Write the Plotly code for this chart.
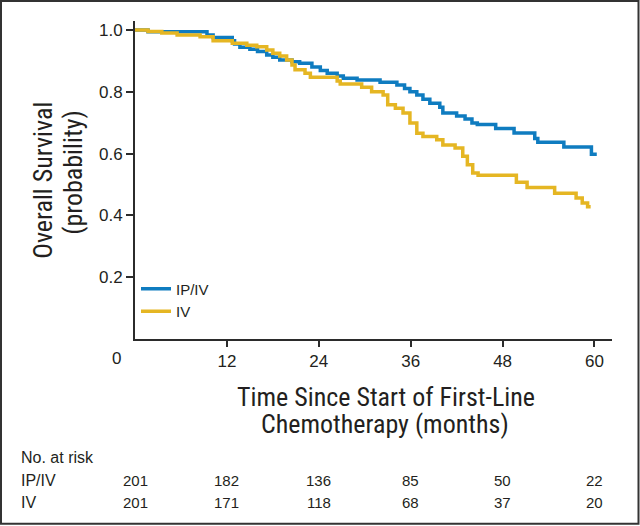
import plotly.graph_objects as go

# ---- data ----
ipiv_t = [0, 1.7, 9.4, 10.2, 12.7, 13.0, 13.7, 15.0, 16.0, 17.2, 18.0, 18.9, 20.5, 21.5, 23.1, 24.2, 25.1,
          26.4, 27.2, 29.0, 32.0, 34.2, 35.2, 35.9, 36.8, 37.6, 38.5, 39.8, 40.2, 42.0, 43.1, 44.0, 44.7,
          47.1, 49.5, 52.2, 52.6, 56.0, 59.6, 60.3]
ipiv_s = [1.000, 0.994, 0.984, 0.976, 0.965, 0.955, 0.944, 0.938, 0.930, 0.919, 0.912, 0.903, 0.897, 0.892,
          0.880, 0.869, 0.860, 0.851, 0.844, 0.838, 0.831, 0.822, 0.811, 0.800, 0.790, 0.776, 0.763, 0.750,
          0.731, 0.722, 0.712, 0.699, 0.694, 0.681, 0.667, 0.649, 0.637, 0.621, 0.598, 0.598]

iv_t = [0, 1.7, 3.5, 5.5, 8.5, 10.2, 12.7, 14.6, 15.9, 17.2, 18.0, 18.9, 19.8, 20.5, 20.9, 22.2, 22.9,
        26.4, 26.8, 29.6, 30.9, 32.4, 33.0, 34.0, 35.0, 35.9, 36.8, 37.6, 39.4, 40.2, 41.8, 42.8, 43.4,
        44.1, 44.8, 49.8, 51.2, 54.8, 57.6, 58.4, 59.1, 59.5]
iv_s = [1.000, 0.995, 0.990, 0.984, 0.978, 0.965, 0.957, 0.951, 0.946, 0.935, 0.925, 0.916, 0.903, 0.887,
        0.871, 0.860, 0.847, 0.835, 0.825, 0.815, 0.800, 0.790, 0.758, 0.747, 0.731, 0.699, 0.666, 0.655,
        0.645, 0.628, 0.618, 0.591, 0.564, 0.537, 0.530, 0.507, 0.490, 0.472, 0.456, 0.440, 0.428, 0.428]

x_ticks = [12, 24, 36, 48, 60]
y_ticks = [0.2, 0.4, 0.6, 0.8, 1.0]
y_tick_labels = ["0.2", "0.4", "0.6", "0.8", "1.0"]

risk_times = [0, 12, 24, 36, 48, 60]
risk_ipiv = [201, 182, 136, 85, 50, 22]
risk_iv = [201, 171, 118, 68, 37, 20]

BLUE = "#0f7cc0"
YELLOW = "#e5b623"
TXT = "#231f20"
NARROW = "Liberation Sans Narrow, Arial Narrow, Roboto Condensed, sans-serif"
REG = "Liberation Sans, Arial, Helvetica, sans-serif"

W, H = 640, 526
L, R, T, B = 135, 612, 21, 339.5


def px(xp):
    return (xp - L) / (R - L)


def py(yp):
    return (B - yp) / (B - T)


fig = go.Figure()
fig.add_trace(go.Scatter(x=ipiv_t, y=ipiv_s, mode="lines", name="IP/IV",
                         line=dict(color=BLUE, width=3.5, shape="hv")))
fig.add_trace(go.Scatter(x=iv_t, y=iv_s, mode="lines", name="IV",
                         line=dict(color=YELLOW, width=3.5, shape="hv")))

x_max = (R - L) / 7.658
y_max = (B - T) / 309.5

fig.update_layout(
    width=W, height=H,
    margin=dict(l=L, r=W - R, t=T, b=H - B),
    paper_bgcolor="white", plot_bgcolor="white",
    showlegend=True,
    legend=dict(x=px(136), y=py(273), xanchor="left", yanchor="top",
                bgcolor="rgba(0,0,0,0)", font=dict(family=REG, size=15, color=TXT),
                tracegroupgap=0, itemwidth=30),
    xaxis=dict(range=[0, x_max], tickvals=x_ticks, ticks="outside", ticklen=6, tickwidth=1.5,
               tickcolor="#2b2b2b", showline=True, linecolor="#2b2b2b", linewidth=2,
               showgrid=False, zeroline=False, tickfont=dict(family=REG, size=17, color=TXT)),
    yaxis=dict(range=[0, y_max], tickvals=y_ticks, ticktext=y_tick_labels, ticks="outside",
               ticklen=7, tickwidth=1.5, tickcolor="#2b2b2b", showline=True, linecolor="#2b2b2b",
               linewidth=2, showgrid=False, zeroline=False,
               tickfont=dict(family=REG, size=17, color=TXT)),
)

ann = []
# "0" at origin
ann.append(dict(x=px(116), y=py(359), xref="paper", yref="paper", text="0", showarrow=False,
                xanchor="center", yanchor="middle", font=dict(family=REG, size=17, color=TXT)))
# x title
ann.append(dict(x=px(386), y=py(398), xref="paper", yref="paper", text="Time Since Start of First-Line",
                showarrow=False, xanchor="center", yanchor="middle",
                font=dict(family=NARROW, size=26, color=TXT)))
ann.append(dict(x=px(385), y=py(425), xref="paper", yref="paper", text="Chemotherapy (months)",
                showarrow=False, xanchor="center", yanchor="middle",
                font=dict(family=NARROW, size=26, color=TXT)))
# y title
ann.append(dict(x=px(43), y=py(181), xref="paper", yref="paper", text="Overall Survival",
                showarrow=False, xanchor="center", yanchor="middle", textangle=-90,
                font=dict(family=NARROW, size=26, color=TXT)))
ann.append(dict(x=px(73), y=py(173), xref="paper", yref="paper", text="(probability)",
                showarrow=False, xanchor="center", yanchor="middle", textangle=-90,
                font=dict(family=NARROW, size=26, color=TXT)))
# risk table
ann.append(dict(x=px(19), y=py(458), xref="paper", yref="paper", text="No. at risk", showarrow=False,
                xanchor="left", yanchor="middle", font=dict(family=REG, size=16, color=TXT)))
ann.append(dict(x=px(19), y=py(481), xref="paper", yref="paper", text="IP/IV", showarrow=False,
                xanchor="left", yanchor="middle", font=dict(family=REG, size=16, color=TXT)))
ann.append(dict(x=px(19), y=py(503), xref="paper", yref="paper", text="IV", showarrow=False,
                xanchor="left", yanchor="middle", font=dict(family=REG, size=16, color=TXT)))
for t, a, b in zip(risk_times, risk_ipiv, risk_iv):
    ann.append(dict(x=t, y=py(481), xref="x", yref="paper", text=str(a), showarrow=False,
                    xanchor="center", yanchor="middle", font=dict(family=REG, size=15, color=TXT)))
    ann.append(dict(x=t, y=py(503), xref="x", yref="paper", text=str(b), showarrow=False,
                    xanchor="center", yanchor="middle", font=dict(family=REG, size=15, color=TXT)))
fig.update_layout(annotations=ann)

# outer frame
fig.add_shape(type="rect", xref="paper", yref="paper", x0=px(1), x1=px(638.5), y0=py(524.5), y1=py(1),
              line=dict(color="#333333", width=2), fillcolor="rgba(0,0,0,0)", layer="above")

fig.write_html("out.html", config={"displayModeBar": False},
               post_script="document.body.style.margin='0';")
